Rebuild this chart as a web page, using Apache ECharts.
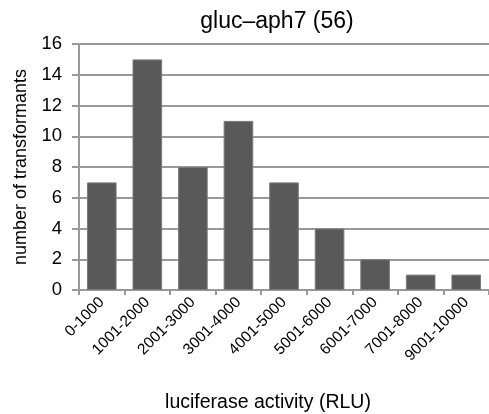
<!DOCTYPE html>
<html><head><meta charset="utf-8">
<script src="https://cdn.jsdelivr.net/npm/echarts@6/dist/echarts.min.js"></script>
<style>html,body{margin:0;padding:0;background:#fff}#c{width:489px;height:414px}</style>
</head><body><div id="c"></div>
<script>
const categories = ['0-1000','1001-2000','2001-3000','3001-4000','4001-5000','5001-6000','6001-7000','7001-8000','9001-10000'];
const counts = [7, 15, 8, 11, 7, 4, 2, 1, 1];
const yTicks = {min: 0, max: 16, interval: 2};
const chart = echarts.init(document.getElementById('c'));
const font = 'Liberation Sans, Arial, sans-serif';
chart.setOption({
  animation: false,
  title: {text: 'gluc\u2013aph7 (56)', top: 5, left: 272, textAlign: 'center', textStyle: {fontFamily: font, fontSize: 23, fontWeight: 'normal', color: '#000'}},
  grid: {left: 79, right: 0, top: 44, bottom: 124, containLabel: false, outerBoundsMode: 'none'},
  xAxis: {
    type: 'category', data: categories,
    name: 'luciferase activity (RLU)', nameLocation: 'middle', nameGap: 103,
    nameTextStyle: {fontFamily: font, fontSize: 19.5, color: '#000', padding: [0, 32, 0, 0]},
    axisLine: {lineStyle: {color: '#999', width: 2}},
    axisTick: {show: true, length: 5, lineStyle: {color: '#999', width: 2}},
    axisLabel: {rotate: 45, fontFamily: font, fontSize: 15.5, color: '#000', interval: 0, margin: 10}
  },
  yAxis: {
    type: 'value', min: yTicks.min, max: yTicks.max, interval: yTicks.interval,
    name: 'number of transformants', nameLocation: 'middle', nameGap: 49, nameRotate: 90,
    nameTextStyle: {fontFamily: font, fontSize: 18, color: '#000'},
    axisLine: {show: true, lineStyle: {color: '#999', width: 2}},
    axisTick: {show: true, length: 7, lineStyle: {color: '#999', width: 2}},
    axisLabel: {fontFamily: font, fontSize: 18.5, color: '#000', margin: 17},
    splitLine: {lineStyle: {color: '#999', width: 2}}
  },
  series: [{
    type: 'bar', data: counts, barWidth: '65%',
    itemStyle: {color: '#595959', borderColor: '#7a7a7a', borderWidth: 1}
  }]
});
</script></body></html>
